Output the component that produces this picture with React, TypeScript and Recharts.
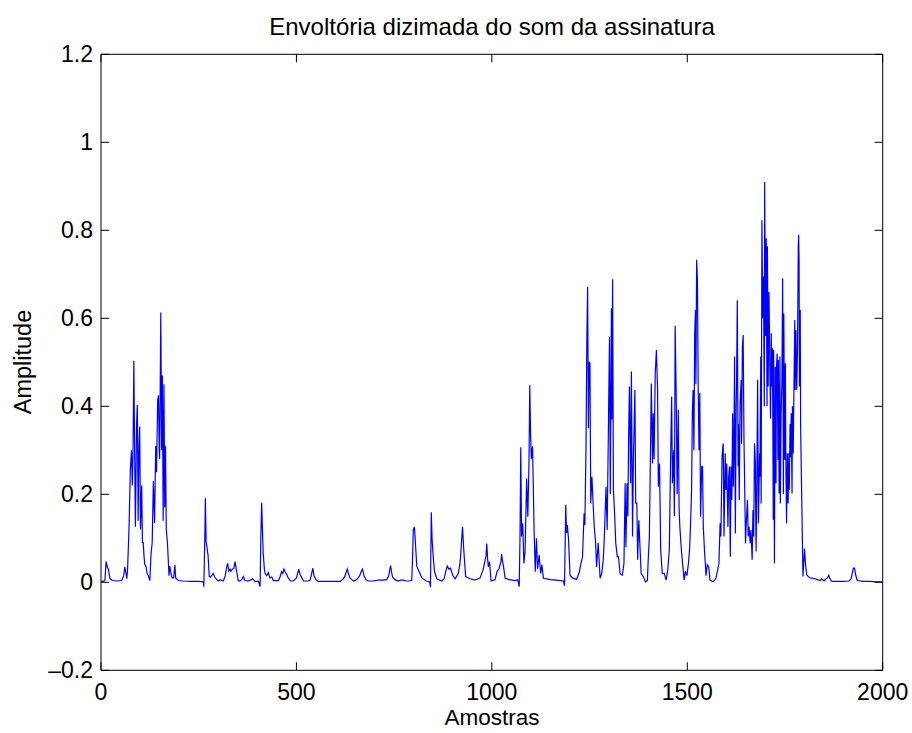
import { LineChart, Line, XAxis, YAxis } from 'recharts'

// sample index (x) and envelope amplitude (y)
const samples = [
  0, 5, 10, 13, 16, 19, 23, 30, 40, 53, 58, 61, 64, 66, 68, 70, 72, 75, 78, 80,
  82, 84, 86, 88, 91, 93, 95, 97, 99, 101, 104, 106, 108, 110, 112, 115, 118, 121, 125, 128,
  131, 134, 137, 140, 142, 145, 147, 149, 150, 153, 155, 157, 159, 161, 163, 165, 167, 170, 174, 176,
  179, 182, 186, 189, 191, 198, 210, 230, 250, 262, 263, 266, 267, 269, 271, 274, 277, 280, 283, 287,
  291, 296, 300, 305, 313, 318, 321, 324, 327, 330, 332, 336, 340, 343, 346, 348, 351, 355, 360, 364,
  368, 377, 385, 388, 394, 403, 407, 409, 411, 413, 415, 418, 420, 424, 428, 432, 437, 441, 454, 458,
  462, 465, 468, 471, 475, 479, 485, 492, 500, 503, 506, 509, 514, 518, 530, 535, 539, 542, 545, 550,
  556, 570, 590, 612, 620, 624, 628, 630, 633, 637, 642, 646, 652, 656, 662, 666, 669, 673, 678, 684,
  695, 710, 720, 731, 736, 739, 741, 743, 746, 752, 760, 766, 774, 780, 786, 795, 797, 799, 802, 804,
  808, 812, 816, 821, 832, 841, 843, 845, 847, 849, 853, 859, 872, 878, 882, 886, 890, 894, 900, 906,
  914, 918, 920, 923, 925, 928, 933, 944, 957, 970, 978, 983, 985, 987, 989, 991, 994, 998, 1008, 1014,
  1018, 1021, 1023, 1025, 1027, 1030, 1034, 1045, 1059, 1066, 1070, 1072, 1074, 1076, 1079, 1082, 1085, 1089, 1092, 1095,
  1097, 1099, 1101, 1104, 1106, 1108, 1111, 1114, 1117, 1121, 1125, 1128, 1132, 1150, 1165, 1183, 1186, 1189, 1191, 1193,
  1196, 1200, 1208, 1217, 1224, 1228, 1232, 1236, 1238, 1241, 1243, 1245, 1247, 1249, 1251, 1253, 1256, 1259, 1262, 1265,
  1268, 1272, 1277, 1281, 1285, 1288, 1292, 1295, 1298, 1301, 1303, 1306, 1307, 1309, 1311, 1314, 1317, 1321, 1324, 1328,
  1334, 1338, 1341, 1343, 1346, 1348, 1350, 1352, 1355, 1357, 1360, 1362, 1366, 1368, 1371, 1373, 1376, 1379, 1382, 1388,
  1393, 1398, 1400, 1403, 1406, 1408, 1411, 1413, 1415, 1418, 1421, 1424, 1426, 1429, 1432, 1436, 1441, 1446, 1450, 1454,
  1457, 1460, 1462, 1465, 1467, 1469, 1472, 1474, 1477, 1479, 1481, 1485, 1488, 1492, 1495, 1499, 1503, 1506, 1509, 1511,
  1513, 1515, 1517, 1519, 1521, 1522, 1524, 1526, 1528, 1530, 1532, 1534, 1537, 1539, 1541, 1544, 1548, 1551, 1555, 1558,
  1566, 1573, 1577, 1581, 1584, 1586, 1589, 1591, 1592, 1594, 1597, 1599, 1601, 1604, 1606, 1608, 1610, 1612, 1614, 1616,
  1618, 1619, 1621, 1623, 1625, 1626, 1628, 1630, 1631, 1633, 1635, 1638, 1639, 1641, 1643, 1645, 1647, 1649, 1651, 1654,
  1656, 1658, 1661, 1663, 1666, 1668, 1670, 1672, 1674, 1676, 1678, 1680, 1682, 1685, 1686, 1688, 1689, 1691, 1693, 1695,
  1697, 1698, 1700, 1702, 1704, 1705, 1707, 1709, 1711, 1713, 1715, 1716, 1718, 1720, 1721, 1723, 1725, 1727, 1728, 1730,
  1732, 1733, 1735, 1737, 1738, 1740, 1742, 1744, 1746, 1747, 1749, 1751, 1752, 1754, 1756, 1758, 1760, 1761, 1763, 1764,
  1766, 1768, 1769, 1771, 1773, 1775, 1776, 1778, 1780, 1782, 1784, 1785, 1786, 1787, 1789, 1790, 1793, 1796, 1800, 1803,
  1806, 1814, 1827, 1840, 1844, 1850, 1855, 1859, 1862, 1865, 1870, 1885, 1900, 1914, 1919, 1922, 1925, 1928, 1931, 1935,
  1950, 1968, 1985, 2000,
]

const amplitude = [
  0.002, 0.002, 0.004, 0.047, 0.035, 0.03, 0.008, 0.004, 0.003, 0.004, 0.015, 0.035, 0.02, 0.008, 0.03, 0.08, 0.134, 0.255, 0.3, 0.22,
  0.3, 0.503, 0.3, 0.126, 0.36, 0.403, 0.14, 0.3, 0.354, 0.12, 0.22, 0.09, 0.09, 0.06, 0.04, 0.037, 0.02, 0.015, 0.004, 0.065,
  0.09, 0.23, 0.135, 0.31, 0.25, 0.414, 0.425, 0.3, 0.28, 0.613, 0.3, 0.47, 0.14, 0.45, 0.17, 0.31, 0.12, 0.09, 0.015, 0.037,
  0.02, 0.01, 0.01, 0.04, 0.01, 0.004, 0.003, 0.002, 0.002, 0.001, -0.01, 0.12, 0.191, 0.09, 0.081, 0.06, 0.013, 0.012, 0.015, 0.02,
  0.012, 0.006, 0.003, 0.006, 0.003, 0.015, 0.032, 0.043, 0.026, 0.03, 0.025, 0.03, 0.032, 0.047, 0.03, 0.02, 0.004, 0.003, 0.006, 0.013,
  0.004, 0.003, 0.006, 0.008, 0.002, 0.002, -0.01, 0.1, 0.181, 0.12, 0.066, 0.03, 0.02, 0.015, 0.022, 0.01, 0.012, 0.004, 0.004, 0.012,
  0.024, 0.02, 0.03, 0.024, 0.018, 0.01, 0.003, 0.003, 0.01, 0.02, 0.03, 0.018, 0.01, 0.003, 0.003, 0.005, 0.02, 0.032, 0.015, 0.006,
  0.002, 0.002, 0.002, 0.002, 0.008, 0.014, 0.025, 0.03, 0.02, 0.01, 0.006, 0.003, 0.005, 0.008, 0.015, 0.025, 0.03, 0.015, 0.006, 0.003,
  0.003, 0.005, 0.005, 0.006, 0.014, 0.03, 0.038, 0.025, 0.012, 0.006, 0.003, 0.005, 0.005, 0.003, 0.003, 0.004, 0.05, 0.119, 0.126, 0.096,
  0.036, 0.028, 0.02, 0.01, 0.003, 0.001, -0.011, 0.159, 0.1, 0.07, 0.026, 0.008, 0.003, 0.008, 0.025, 0.037, 0.03, 0.032, 0.016, 0.008,
  0.02, 0.04, 0.058, 0.1, 0.126, 0.075, 0.013, 0.008, 0.005, 0.01, 0.03, 0.051, 0.06, 0.088, 0.055, 0.035, 0.047, 0.003, 0.006, 0.026,
  0.03, 0.04, 0.045, 0.064, 0.05, 0.035, 0.009, 0.006, 0.004, 0.006, -0.01, 0.1, 0.307, 0.104, 0.134, 0.043, 0.07, 0.236, 0.149, 0.27,
  0.448, 0.339, 0.28, 0.309, 0.221, 0.12, 0.024, 0.1, 0.03, 0.062, 0.02, 0.04, 0.009, 0.006, 0.005, 0.003, -0.008, 0.176, 0.112, 0.13,
  0.1, 0.016, 0.009, 0.007, 0.024, 0.043, 0.058, 0.157, 0.13, 0.316, 0.55, 0.671, 0.35, 0.5, 0.498, 0.18, 0.24, 0.18, 0.126, 0.096,
  0.035, 0.09, 0.009, 0.02, 0.05, 0.107, 0.217, 0.119, 0.335, 0.558, 0.2, 0.623, 0.37, 0.689, 0.21, 0.157, 0.089, 0.058, 0.058, 0.02,
  0.016, 0.043, 0.225, 0.08, 0.225, 0.15, 0.338, 0.445, 0.225, 0.479, 0.104, 0.27, 0.437, 0.18, 0.18, 0.051, 0.141, 0.08, 0.02, 0.012,
  0.001, 0.005, 0.05, 0.104, 0.308, 0.452, 0.27, 0.384, 0.28, 0.475, 0.528, 0.437, 0.217, 0.27, 0.073, 0.02, 0.02, 0.005, 0.028, 0.073,
  0.263, 0.422, 0.225, 0.3, 0.15, 0.583, 0.399, 0.2, 0.392, 0.17, 0.126, 0.073, 0.043, 0.005, 0.025, 0.015, 0.043, 0.077, 0.149, 0.21,
  0.388, 0.437, 0.3, 0.566, 0.619, 0.45, 0.733, 0.687, 0.437, 0.3, 0.43, 0.149, 0.263, 0.263, 0.126, 0.073, 0.015, 0.04, 0.035, 0.005,
  0.001, 0.008, 0.025, 0.043, 0.134, 0.104, 0.285, 0.308, 0.316, 0.104, 0.293, 0.21, 0.27, 0.126, 0.24, 0.263, 0.058, 0.263, 0.187, 0.384,
  0.217, 0.278, 0.513, 0.111, 0.393, 0.445, 0.641, 0.263, 0.36, 0.187, 0.405, 0.46, 0.315, 0.536, 0.562, 0.33, 0.21, 0.088, 0.134, 0.187,
  0.104, 0.127, 0.088, 0.119, 0.051, 0.164, 0.104, 0.316, 0.278, 0.07, 0.23, 0.46, 0.134, 0.293, 0.24, 0.513, 0.179, 0.823, 0.6, 0.695,
  0.4, 0.91, 0.56, 0.782, 0.4, 0.764, 0.445, 0.66, 0.513, 0.372, 0.566, 0.445, 0.532, 0.142, 0.528, 0.043, 0.49, 0.225, 0.483, 0.52,
  0.278, 0.505, 0.202, 0.513, 0.179, 0.38, 0.45, 0.691, 0.2, 0.611, 0.278, 0.498, 0.293, 0.134, 0.293, 0.179, 0.293, 0.21, 0.36, 0.285,
  0.384, 0.202, 0.4, 0.293, 0.445, 0.596, 0.437, 0.573, 0.437, 0.528, 0.765, 0.79, 0.733, 0.445, 0.619, 0.354, 0.18, 0.013, 0.077, 0.035,
  0.016, 0.01, 0.008, 0.004, 0.008, 0.003, 0.008, 0.01, 0.016, 0.008, 0.002, 0.002, 0.002, 0.003, 0.008, 0.02, 0.032, 0.032, 0.016, 0.004,
  0.002, 0.002, 0.001, 0.001,
]

const xTicks = [0, 500, 1000, 1500, 2000]
const yTicks = [-0.2, 0, 0.2, 0.4, 0.6, 0.8, 1, 1.2]

const data = samples.map((s, i) => ({ s, v: amplitude[i] }))

const font = '"Liberation Sans", Arial, Helvetica, sans-serif'
const black = { stroke: '#000', strokeWidth: 1 }
const TICK = 8

function fmtY(v: number) {
  const r = Math.round(v * 10) / 10
  return r < 0 ? '\u2013' + Math.abs(r) : String(r)
}

// matlab style: tick marks point into the box
function BottomTick({ x, y, payload }: any) {
  return (
    <g>
      <line x1={x} y1={y} x2={x} y2={y - TICK} stroke="#000" />
      <text x={x} y={y + 30} textAnchor="middle" fontSize={23} fontFamily={font} fill="#000">
        {payload.value}
      </text>
    </g>
  )
}

function LeftTick({ x, y, payload }: any) {
  return (
    <g>
      <line x1={x} y1={y} x2={x + TICK} y2={y} stroke="#000" />
      <text x={x - 8} y={y + 8} textAnchor="end" fontSize={23} fontFamily={font} fill="#000">
        {fmtY(payload.value)}
      </text>
    </g>
  )
}

function TopTick({ x, y }: any) {
  return <line x1={x} y1={y} x2={x} y2={y + TICK} stroke="#000" />
}

function RightTick({ x, y }: any) {
  return <line x1={x} y1={y} x2={x - TICK} y2={y} stroke="#000" />
}

export default function App() {
  return (
    <div style={{ position: 'absolute', left: 0, top: 0, width: 912, height: 733, background: '#fff' }}>
      <LineChart
        width={912}
        height={733}
        data={data}
        margin={{ top: 53.3, right: 28.3, bottom: 22.7, left: 21 }}
      >
        <XAxis
          xAxisId="b"
          dataKey="s"
          type="number"
          domain={[0, 2000]}
          ticks={xTicks}
          interval={0}
          allowDataOverflow
          height={40}
          tickSize={0}
          tickMargin={0}
          axisLine={black}
          tickLine={false}
          tick={BottomTick}
        />
        <XAxis
          xAxisId="t"
          orientation="top"
          dataKey="s"
          type="number"
          domain={[0, 2000]}
          ticks={xTicks}
          interval={0}
          allowDataOverflow
          height={1}
          tickSize={0}
          tickMargin={0}
          axisLine={black}
          tickLine={false}
          tick={TopTick}
        />
        <YAxis
          yAxisId="l"
          type="number"
          domain={[-0.2, 1.2]}
          ticks={yTicks}
          interval={0}
          allowDataOverflow
          width={80}
          tickSize={0}
          tickMargin={0}
          axisLine={black}
          tickLine={false}
          tick={LeftTick}
        />
        <YAxis
          yAxisId="r"
          orientation="right"
          type="number"
          domain={[-0.2, 1.2]}
          ticks={yTicks}
          interval={0}
          allowDataOverflow
          width={1}
          tickSize={0}
          tickMargin={0}
          axisLine={black}
          tickLine={false}
          tick={RightTick}
        />
        <Line
          xAxisId="b"
          yAxisId="l"
          type="linear"
          dataKey="v"
          stroke="#0000ff"
          strokeWidth={1.2}
          dot={false}
          isAnimationActive={false}
        />
      </LineChart>
      <svg
        width={912}
        height={733}
        style={{ position: 'absolute', left: 0, top: 0, pointerEvents: 'none' }}
        fontFamily={font}
        fill="#000"
      >
        <text x={492} y={35} textAnchor="middle" fontSize={24}>Envoltória dizimada do som da assinatura</text>
        <text x={492} y={725} textAnchor="middle" fontSize={22.5}>Amostras</text>
        <text transform="translate(31,362) rotate(-90)" textAnchor="middle" fontSize={23.5}>Amplitude</text>
      </svg>
    </div>
  )
}
